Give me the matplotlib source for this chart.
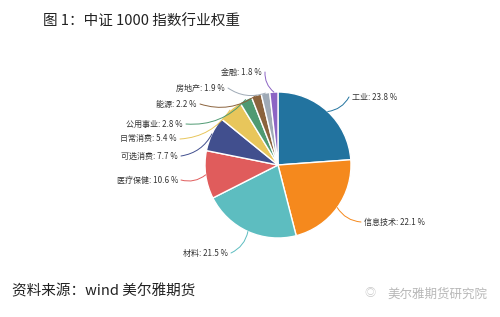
import numpy as np
import matplotlib.pyplot as plt

plt.rcParams["font.family"] = ["Noto Sans CJK SC", "DejaVu Sans"]

sectors = ["工业", "信息技术", "材料", "医疗保健", "可选消费",
           "日常消费", "公用事业", "能源", "房地产", "金融"]
weights = [23.8, 22.1, 21.5, 10.6, 7.7, 5.4, 2.8, 2.2, 1.9, 1.8]
colors = ["#22739f", "#f5891d", "#5dbdc0", "#e05c5c", "#414f8e",
          "#e8c65b", "#4f9a72", "#8b633d", "#9faab6", "#8c64c4"]

# label anchor (end of leader line) in pixel coords (y from top), text alignment
label_pos = [(349, 97, "left"), (361, 222, "left"), (231, 253, "right"),
             (181, 180, "right"), (181, 156, "right"), (180, 139, "right"),
             (186, 124, "right"), (200, 104, "right"), (228, 88, "right"),
             (265, 72, "right")]

W, H = 500, 317
fig = plt.figure(figsize=(5, 3.17), dpi=100)
fig.patch.set_facecolor("white")
ax = fig.add_axes([0, 0, 1, 1])

cx, cy, r = 278, H - 165, 73
wedges, _ = ax.pie(weights, colors=colors, startangle=90, counterclock=False,
                   center=(cx, cy), radius=r, frame=True,
                   wedgeprops=dict(edgecolor="white", linewidth=1))
ax.set_xlim(0, W)
ax.set_ylim(0, H)
ax.set_aspect("equal")
ax.axis("off")

for w, name, val, col, (lx, ly, ha) in zip(wedges, sectors, weights, colors, label_pos):
    ang = np.deg2rad((w.theta1 + w.theta2) / 2)
    x0, y0 = cx + r * np.cos(ang), cy + r * np.sin(ang)
    ly = H - ly
    rad = 0.25 if ha == "right" else -0.25
    ax.annotate("", xy=(x0, y0), xytext=(lx, ly),
                arrowprops=dict(arrowstyle="-", color=col, lw=0.7,
                                connectionstyle=f"arc3,rad={rad}",
                                shrinkA=0, shrinkB=0))
    tx = lx + 3 if ha == "left" else lx - 3
    ax.text(tx, ly, f"{name}: {val} %", ha=ha, va="center",
            fontsize=5.8, color="#333333")

fig.text(43 / W, 1 - 22 / H, "图 1：中证 1000 指数行业权重", fontsize=10.5,
         color="#222222", va="center", ha="left")
fig.text(12 / W, 1 - 291 / H, "资料来源：wind 美尔雅期货", fontsize=10.5,
         color="#222222", va="center", ha="left")
fig.text(387 / W, 1 - 294 / H, "美尔雅期货研究院", fontsize=9,
         color="#b8b8b8", va="center", ha="left")
fig.text(370 / W, 1 - 293 / H, "◎", fontsize=8, color="#c8c8c8",
         va="center", ha="center")

fig.savefig("out.png", dpi=100, facecolor="white")
